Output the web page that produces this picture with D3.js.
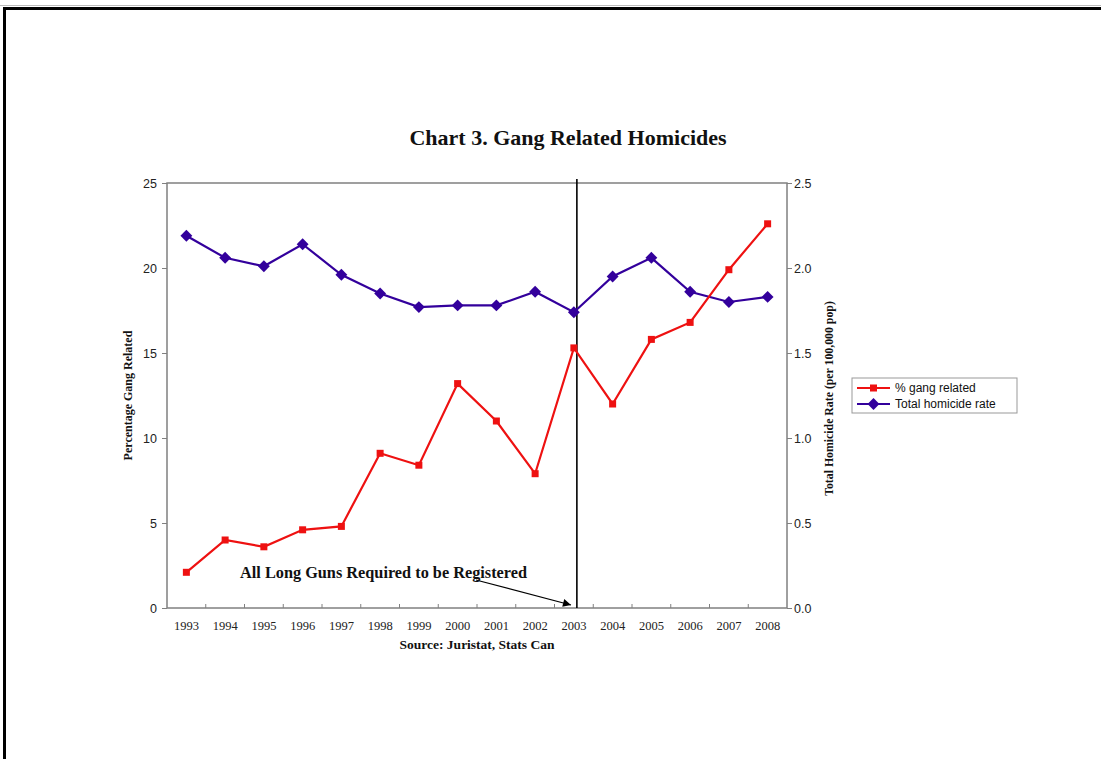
<!DOCTYPE html>
<html>
<head>
<meta charset="utf-8">
<script src="https://cdn.jsdelivr.net/npm/d3@7"></script>
<style>
  html, body { margin: 0; padding: 0; background: #fff; }
  svg { display: block; }
</style>
</head>
<body>
<svg id="chart" width="1101" height="759"></svg>
<script>
// Years on the category axis
const years = ["1993","1994","1995","1996","1997","1998","1999","2000","2001","2002","2003","2004","2005","2006","2007","2008"];
// Share of homicides that were gang related (%), left axis
const gangPct = [2.1, 4.0, 3.6, 4.6, 4.8, 9.1, 8.4, 13.2, 11.0, 7.9, 15.3, 12.0, 15.8, 16.8, 19.9, 22.6];
// Total homicide rate per 100,000 population, right axis
const homicideRate = [2.19, 2.06, 2.01, 2.14, 1.96, 1.85, 1.77, 1.78, 1.78, 1.86, 1.74, 1.95, 2.06, 1.86, 1.80, 1.83];
// Axis tick values
const leftTicks = [0, 5, 10, 15, 20, 25];
const rightTicks = [0, 0.5, 1.0, 1.5, 2.0, 2.5];
// Series names for the legend
const seriesNames = ["% gang related", "Total homicide rate"];
// Year marked by the registration line
const registrationYear = "2003";

const svg = d3.select("#chart");
const serif = "'Liberation Serif', 'Times New Roman', serif";
const sans = "'Liberation Sans', Arial, sans-serif";
const red = "#ee1111";
const blue = "#33009c";
const frameGray = "#808080";

// Page frame
svg.append("line").attr("x1", 0).attr("x2", 1101).attr("y1", 5.5).attr("y2", 5.5)
  .attr("stroke", "#bbb").attr("stroke-width", 1);
svg.append("path").attr("d", "M4.5,759 V8.5 H1101")
  .attr("fill", "none").attr("stroke", "#000").attr("stroke-width", 3);

const plot = { left: 167, right: 787, top: 183, bottom: 608 };

const x = d3.scaleBand().domain(years).range([plot.left, plot.right]);
const yL = d3.scaleLinear().domain([0, 25]).range([plot.bottom, plot.top]);
const yR = d3.scaleLinear().domain([0, 2.5]).range([plot.bottom, plot.top]);
const cx = d => x(d) + x.bandwidth() / 2;

// Title
svg.append("text").attr("x", 568).attr("y", 145).attr("text-anchor", "middle")
  .attr("font-family", serif).attr("font-weight", "bold").attr("font-size", 22)
  .attr("fill", "#111").text("Chart 3. Gang Related Homicides");

// Plot frame
svg.append("rect").attr("x", plot.left).attr("y", plot.top)
  .attr("width", plot.right - plot.left).attr("height", plot.bottom - plot.top)
  .attr("fill", "none").attr("stroke", frameGray).attr("stroke-width", 1.5);

// Left axis
const gL = svg.append("g").attr("transform", `translate(${plot.left},0)`)
  .call(d3.axisLeft(yL).tickValues(leftTicks).tickSize(5).tickPadding(5).tickFormat(d3.format("d")));
gL.select(".domain").remove();
gL.selectAll("line").attr("stroke", frameGray);
gL.selectAll("text").attr("font-family", sans).attr("font-size", 12.5).attr("fill", "#222");

// Right axis
const gR = svg.append("g").attr("transform", `translate(${plot.right},0)`)
  .call(d3.axisRight(yR).tickValues(rightTicks).tickSize(5).tickPadding(2).tickFormat(d3.format(".1f")));
gR.select(".domain").remove();
gR.selectAll("line").attr("stroke", frameGray);
gR.selectAll("text").attr("font-family", sans).attr("font-size", 12.5).attr("fill", "#222");

// Category axis: tick marks at band boundaries, labels centred in bands
const gX = svg.append("g").attr("transform", `translate(0,${plot.bottom})`)
  .call(d3.axisBottom(x).tickSize(0).tickPadding(13));
gX.select(".domain").remove();
gX.selectAll("text").attr("font-family", serif).attr("font-size", 12.5).attr("fill", "#222");
svg.append("g").selectAll("line").data(years.slice(1)).join("line")
  .attr("x1", d => x(d)).attr("x2", d => x(d))
  .attr("y1", plot.bottom).attr("y2", plot.bottom - 4)
  .attr("stroke", frameGray);

// Axis titles
svg.append("text").attr("transform", `translate(132,${(plot.top + plot.bottom) / 2}) rotate(-90)`)
  .attr("text-anchor", "middle").attr("font-family", serif).attr("font-weight", "bold")
  .attr("font-size", 12).attr("fill", "#111").text("Percentage Gang Related");
svg.append("text").attr("transform", `translate(833,${(plot.top + plot.bottom) / 2 + 3}) rotate(-90)`)
  .attr("text-anchor", "middle").attr("font-family", serif).attr("font-weight", "bold")
  .attr("font-size", 11.8).attr("fill", "#111").text("Total Homicide Rate (per 100,000 pop)");

// Source note
svg.append("text").attr("x", 477).attr("y", 649).attr("text-anchor", "middle")
  .attr("font-family", serif).attr("font-weight", "bold").attr("font-size", 13.5)
  .attr("fill", "#111").text("Source: Juristat, Stats Can");

// Registration marker line
const regX = cx(registrationYear) + 3;
svg.append("line").attr("x1", regX).attr("x2", regX).attr("y1", plot.top - 4).attr("y2", plot.bottom)
  .attr("stroke", "#000").attr("stroke-width", 1.6);

// Series: homicide rate (right axis)
const lineR = d3.line().x((d, i) => cx(years[i])).y(d => yR(d));
svg.append("path").datum(homicideRate).attr("d", lineR)
  .attr("fill", "none").attr("stroke", blue).attr("stroke-width", 2.2);
const diamond = d3.symbol().type(d3.symbolDiamond2).size(90);
svg.append("g").selectAll("path").data(homicideRate).join("path")
  .attr("d", diamond)
  .attr("transform", (d, i) => `translate(${cx(years[i])},${yR(d)})`)
  .attr("fill", blue);

// Series: gang related share (left axis)
const lineL = d3.line().x((d, i) => cx(years[i])).y(d => yL(d));
svg.append("path").datum(gangPct).attr("d", lineL)
  .attr("fill", "none").attr("stroke", red).attr("stroke-width", 2.2);
svg.append("g").selectAll("rect").data(gangPct).join("rect")
  .attr("x", (d, i) => cx(years[i]) - 3.5).attr("y", d => yL(d) - 3.5)
  .attr("width", 7).attr("height", 7).attr("fill", red);

// Annotation with arrow
svg.append("defs").append("marker").attr("id", "arrowhead")
  .attr("viewBox", "0 0 10 10").attr("refX", 10).attr("refY", 5)
  .attr("markerWidth", 11).attr("markerHeight", 8).attr("markerUnits", "userSpaceOnUse")
  .attr("orient", "auto")
  .append("path").attr("d", "M0,0 L10,5 L0,10 Z").attr("fill", "#000");
svg.append("line").attr("x1", 476).attr("y1", 580).attr("x2", 571).attr("y2", 605)
  .attr("stroke", "#000").attr("stroke-width", 1.2).attr("marker-end", "url(#arrowhead)");
svg.append("text").attr("x", 240).attr("y", 578)
  .attr("font-family", serif).attr("font-weight", "bold").attr("font-size", 16.3)
  .attr("fill", "#111").text("All Long Guns Required to be Registered");

// Legend
const legend = svg.append("g").attr("transform", "translate(852,378)");
legend.append("rect").attr("width", 165).attr("height", 35)
  .attr("fill", "#fff").attr("stroke", "#999").attr("stroke-width", 1);
const legendItems = [
  { name: seriesNames[0], color: red, shape: "square" },
  { name: seriesNames[1], color: blue, shape: "diamond" }
];
legendItems.forEach((it, i) => {
  const yy = 10 + i * 16;
  legend.append("line").attr("x1", 5).attr("x2", 38).attr("y1", yy).attr("y2", yy)
    .attr("stroke", it.color).attr("stroke-width", 2.2);
  if (it.shape === "square") {
    legend.append("rect").attr("x", 21.5 - 3.5).attr("y", yy - 3.5).attr("width", 7).attr("height", 7).attr("fill", it.color);
  } else {
    legend.append("path").attr("d", diamond).attr("transform", `translate(21.5,${yy})`).attr("fill", it.color);
  }
  legend.append("text").attr("x", 43).attr("y", yy + 4)
    .attr("font-family", sans).attr("font-size", 12).attr("fill", "#111").text(it.name);
});
</script>
</body>
</html>
